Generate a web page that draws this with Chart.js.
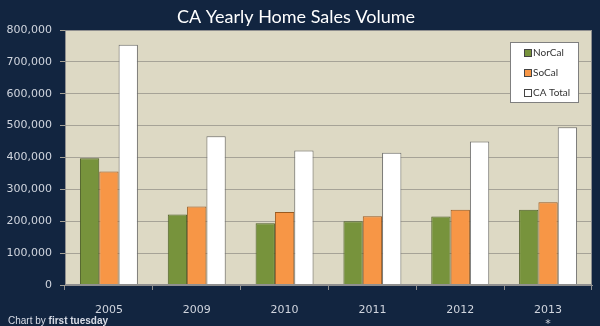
<!DOCTYPE html>
<html>
<head>
<meta charset="utf-8">
<script src="https://cdn.jsdelivr.net/npm/chart.js@4.4.1/dist/chart.umd.min.js"></script>
<style>
  html, body { margin: 0; padding: 0; background: #122540; }
  canvas { display: block; }
</style>
</head>
<body>
<canvas id="myChartSales" width="600" height="326"></canvas>
<script>
// Dados do gráfico
const anos = ['2005', '2009', '2010', '2011', '2012', ['2013', '*']];
const norCal = [398000, 221000, 194000, 200000, 215000, 236000];
const soCal = [356000, 246000, 229000, 216000, 236000, 260000];
const caTotal = [754000, 467000, 422000, 415000, 450000, 495000];

// Fundo bege da área do gráfico + legenda + crédito
const plotFundo = {
    id: 'plotFundo',
    beforeDraw(chart) {
        const { ctx, chartArea: a } = chart;
        ctx.save();
        ctx.fillStyle = '#ddd9c4';
        ctx.fillRect(a.left, a.top, a.right - a.left, a.bottom - a.top);
        ctx.restore();
    },
    afterDraw(chart) {
        const { ctx, chartArea: a } = chart;
        ctx.save();
        // borda da área
        ctx.strokeStyle = '#8f8f8f';
        ctx.lineWidth = 1;
        ctx.strokeRect(a.left + 0.5, a.top + 0.5, a.right - a.left - 1, a.bottom - a.top - 1);

        // legenda
        const lx = 510, ly = 42, lw = 69, lh = 61;
        ctx.fillStyle = '#ffffff';
        ctx.fillRect(lx, ly, lw, lh);
        ctx.strokeStyle = '#7f7f7f';
        ctx.strokeRect(lx + 0.5, ly + 0.5, lw - 1, lh - 1);
        ctx.font = '10px Lato';
        ctx.textBaseline = 'middle';
        chart.data.datasets.forEach((ds, i) => {
            const y = 53 + i * 20;
            ctx.fillStyle = ds.backgroundColor;
            ctx.fillRect(525, y - 3, 6, 6);
            ctx.strokeStyle = '#444';
            ctx.strokeRect(524.5, y - 3.5, 7, 7);
            ctx.fillStyle = '#333';
            ctx.fillText(ds.label, 533, y);
        });

        // crédito
        ctx.fillStyle = '#d8dce6';
        ctx.textBaseline = 'alphabetic';
        ctx.font = '10px "Liberation Sans"';
        ctx.fillText('Chart by ', 8, 324);
        const w = ctx.measureText('Chart by ').width;
        ctx.font = 'bold 10px "Liberation Sans"';
        ctx.fillText('first tuesday', 8 + w, 324);
        ctx.restore();
    }
};

const ctxSales = document.getElementById('myChartSales');

new Chart(ctxSales, {
    type: 'bar',
    data: {
        labels: anos,
        datasets: [
            {
                label: 'NorCal',
                data: norCal,
                backgroundColor: '#77933c',
                borderColor: '#4d5e26',
                borderWidth: 1
            },
            {
                label: 'SoCal',
                data: soCal,
                backgroundColor: '#f79646',
                borderColor: '#9a5a20',
                borderWidth: 1
            },
            {
                label: 'CA Total',
                data: caTotal,
                backgroundColor: '#ffffff',
                borderColor: '#6e6e6e',
                borderWidth: 1
            }
        ]
    },
    options: {
        responsive: false,
        animation: false,
        categoryPercentage: 0.66,
        barPercentage: 1.0,
        layout: { padding: { left: 0, right: 8, top: 0, bottom: 0 } },
        plugins: {
            legend: { display: false },
            tooltip: { enabled: false },
            title: {
                display: true,
                text: 'CA Yearly Home Sales Volume',
                color: '#ffffff',
                font: { family: 'Lato', size: 18, weight: 'normal' },
                padding: { top: 6, bottom: 2.4 }
            }
        },
        scales: {
            x: {
                afterFit: (s) => { s.height = 41; },
                border: { color: '#8f8f8f' },
                grid: {
                    offset: true,
                    drawOnChartArea: false,
                    color: '#8f8f8f',
                    tickLength: 5
                },
                ticks: {
                    color: '#d0d5de',
                    font: { family: 'DejaVu Sans', size: 11 },
                    padding: 14
                }
            },
            y: {
                min: 0,
                max: 800000,
                afterFit: (s) => { s.width = 65; },
                border: { color: '#8f8f8f' },
                grid: {
                    color: '#a6a397',
                    tickLength: 5
                },
                ticks: {
                    stepSize: 100000,
                    color: '#d0d5de',
                    font: { family: 'DejaVu Sans', size: 11 },
                    padding: 8,
                    callback: (v) => v.toLocaleString('en-US')
                }
            }
        }
    },
    plugins: [plotFundo]
});
</script>
</body>
</html>
